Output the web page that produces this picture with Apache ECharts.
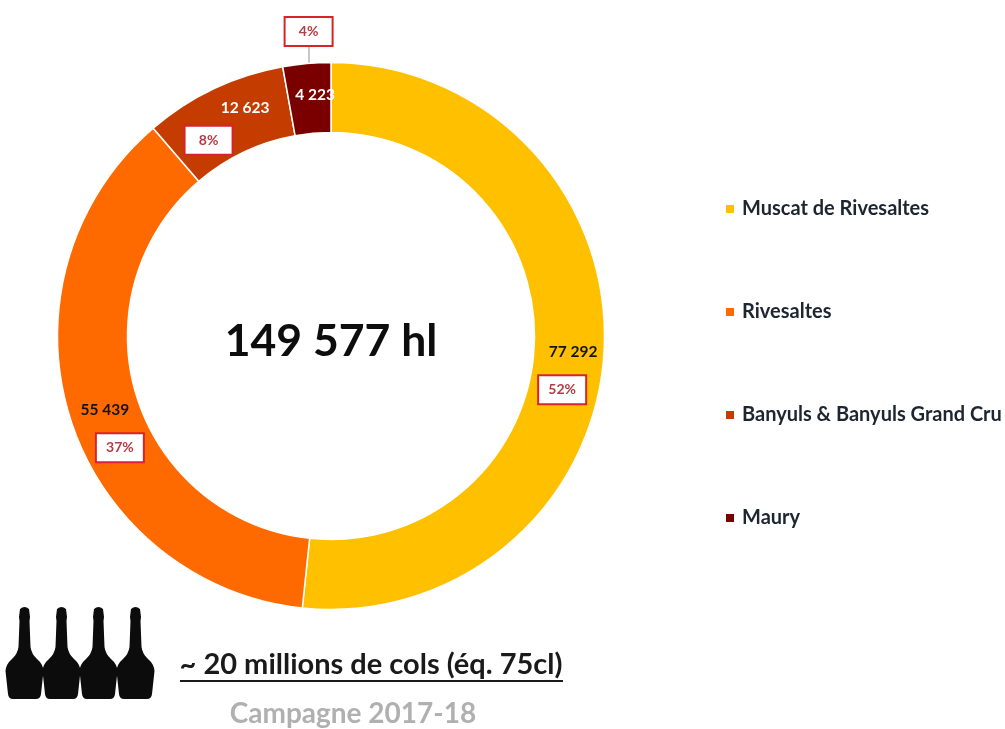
<!DOCTYPE html>
<html><head><meta charset="utf-8">
<style>html,body{margin:0;padding:0;background:#fff}#c{width:1005px;height:729px}</style>
<script src="https://cdn.jsdelivr.net/npm/echarts@6/dist/echarts.min.js"></script>
</head><body><div id="c"></div>
<script>
const categories = ['Muscat de Rivesaltes','Rivesaltes','Banyuls & Banyuls Grand Cru','Maury'];
const volumes = [77292,55439,12623,4223];
const volumeLabels = ['77 292','55 439','12 623','4 223'];
const shareLabels = ['52%','37%','8%','4%'];
const totalLabel = '149 577 hl';
const colsLabel = '~ 20 millions de cols (éq. 75cl)';
const campaignLabel = 'Campagne 2017-18';
const colors = ['#FFC000','#FF6A00','#C43C00','#7A0000'];

const volumeNudge = [[1,3],[4.5,2],[17.5,-10],[5.5,0]];
const shareNudge = [[-10,41],[19.5,40],[-19,22.5],[-1,-64]];
const FONT = 'Lato';
const bottlePath = 'M14 2 Q18.5 -2 23 2 L24 10 L23.5 14 L24.5 40 Q25.5 47 31 52 Q37 57 37.5 64 L35 87 Q34.5 92 30 92 L7 92 Q2.5 92 2 87 L-0.5 64 Q0 57 6 52 Q11.5 47 12.5 40 L13.5 14 L13 10 Z';
const bottleX = [6,43,80,117];
echarts.graphic.registerShape('bottle', echarts.graphic.extendPath(bottlePath, {}));

const chart = echarts.init(document.getElementById('c'), null, {renderer:'canvas'});
const ring = {type:'pie', center:[331,336], radius:[203.5,273.5], startAngle:90, clockwise:true, animation:false, silent:true};
const mk = fn => categories.map((n,i)=>({name:n, value:volumes[i], ...fn(i)}));
chart.setOption({
  animation:false,
  color:colors,
  legend:{orient:'vertical', left:719, top:194, itemWidth:10, itemHeight:10, itemGap:83, icon:'rect', selectedMode:false,
    data:categories,
    textStyle:{fontFamily:FONT, fontWeight:'bold', fontSize:20, color:'#1d2530', padding:[0,0,0,2]}},
  series:[
    {...ring, name:'volumes', itemStyle:{borderColor:'#fff', borderWidth:1.5},
      labelLine:{show:false},
      label:{show:true, position:'inside', fontFamily:FONT, fontWeight:'bold', fontSize:15.5},
      labelLayout:p=>({dx:volumeNudge[p.dataIndex][0], dy:volumeNudge[p.dataIndex][1]}),
      data:mk(i=>({label:{formatter:volumeLabels[i], color:i<2?'#141414':'#ffffff'}}))},
    {...ring, name:'shares', itemStyle:{color:'transparent', borderWidth:0},
      labelLine:{show:false},
      label:{show:true, position:'inside', fontFamily:FONT, fontWeight:'bold', fontSize:14, color:'#B83A44',
        backgroundColor:'#fff', borderColor:'#D8232A', borderWidth:2, width:46, height:27, lineHeight:27, align:'center', verticalAlign:'middle'},
      labelLayout:p=>({dx:shareNudge[p.dataIndex][0], dy:shareNudge[p.dataIndex][1]}),
      data:mk(i=>({label:{formatter:shareLabels[i]}}))}
  ],
  graphic:[
    {type:'line', z:1, shape:{x1:309,y1:47,x2:309,y2:63}, style:{stroke:'#b5b5b5', lineWidth:1.5}},
    {type:'text', x:331, y:342, style:{text:totalLabel, fontFamily:FONT, fontWeight:'bold', fontSize:44.5, fill:'#0d0d0d', align:'center', verticalAlign:'middle'}},
    {type:'text', x:371, y:665, style:{text:colsLabel, fontFamily:FONT, fontWeight:'bold', fontSize:29, fill:'#1a1a1a', align:'center', verticalAlign:'middle'}},
    {type:'line', shape:{x1:180,y1:681,x2:563,y2:681}, style:{stroke:'#1a1a1a', lineWidth:2}},
    {type:'text', x:353, y:714, style:{text:campaignLabel, fontFamily:FONT, fontWeight:'bold', fontSize:28, fill:'#B0B0B0', align:'center', verticalAlign:'middle'}},
    ...bottleX.map(x=>({type:'bottle', x:x, y:607, style:{fill:'#0c0c0c'}}))
  ]
});
</script></body></html>
